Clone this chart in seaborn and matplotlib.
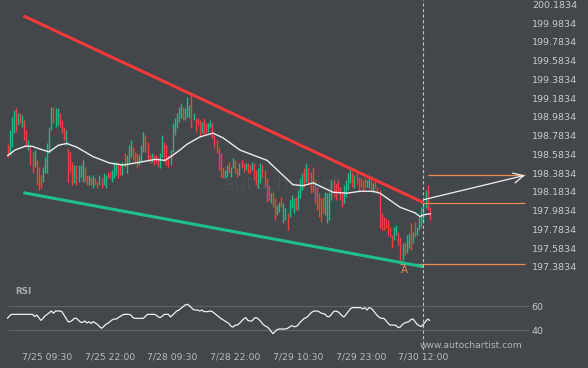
import numpy as np
import pandas as pd
import matplotlib
matplotlib.use("Agg")
import matplotlib.pyplot as plt
import seaborn as sns

# 30-minute candles (open / close prices)
opens = [
    198.69, 198.58, 198.66, 198.81, 199.08, 198.90, 199.02, 198.88, 198.95, 198.84,
    198.63, 198.66, 198.61, 198.45, 198.52, 198.45, 198.36, 198.29, 198.39, 198.39,
    198.60, 198.84, 199.09, 198.88, 198.90, 199.02, 198.95, 198.88, 198.68, 198.65,
    198.61, 198.50, 198.28, 198.47, 198.29, 198.34, 198.29, 198.45, 198.36, 198.26,
    198.34, 198.23, 198.33, 198.29, 198.26, 198.33, 198.26, 198.23, 198.40, 198.40,
    198.29, 198.33, 198.36, 198.50, 198.47, 198.36, 198.60, 198.39, 198.50, 198.56,
    198.66, 198.61, 198.60, 198.47, 198.50, 198.61, 198.79, 198.72, 198.58, 198.50,
    198.58, 198.58, 198.56, 198.44, 198.56, 198.72, 198.68, 198.58, 198.47, 198.61,
    198.79, 198.86, 198.93, 198.97, 199.09, 198.95, 198.98, 198.97, 199.22, 198.95,
    198.97, 198.97, 198.95, 198.81, 198.97, 198.92, 198.82, 198.88, 198.92, 198.79,
    198.74, 198.66, 198.60, 198.45, 198.33, 198.34, 198.50, 198.34, 198.44, 198.52,
    198.44, 198.36, 198.52, 198.49, 198.42, 198.49, 198.47, 198.42, 198.49, 198.42,
    198.23, 198.28, 198.47, 198.42, 198.33, 198.26, 198.07, 198.18, 198.12, 197.94,
    197.97, 198.13, 197.85, 197.88, 197.96, 197.92, 198.01, 197.96, 198.13, 197.99,
    198.12, 198.20, 198.44, 198.29, 198.44, 198.40, 198.45, 198.31, 198.24, 198.17,
    198.12, 198.13, 197.94, 197.85, 197.88, 198.10, 198.31, 198.28, 198.31, 198.24,
    198.17, 198.07, 198.13, 198.20, 198.28, 198.40, 198.23, 198.39, 198.34, 198.33,
    198.31, 198.33, 198.24, 198.23, 198.31, 198.17, 198.31, 198.24, 198.20, 197.96,
    197.92, 197.91, 197.88, 197.81, 197.72, 197.67, 197.72, 197.76, 197.70, 197.46,
    197.65, 197.53, 197.59, 197.85, 197.64, 197.86, 197.72, 197.78, 197.81, 197.86,
    198.01, 198.26, 198.02,
]
closes = [
    198.56, 198.84, 198.98, 199.06, 198.82, 199.02, 198.92, 199.00, 198.74, 198.66,
    198.74, 198.47, 198.39, 198.63, 198.26, 198.20, 198.23, 198.45, 198.56, 198.70,
    198.88, 199.09, 198.92, 199.08, 199.08, 198.88, 198.81, 198.74, 198.84, 198.29,
    198.40, 198.26, 198.47, 198.26, 198.47, 198.47, 198.52, 198.29, 198.26, 198.36,
    198.26, 198.36, 198.26, 198.23, 198.36, 198.23, 198.39, 198.36, 198.33, 198.33,
    198.42, 198.50, 198.50, 198.33, 198.36, 198.50, 198.45, 198.58, 198.68, 198.74,
    198.52, 198.49, 198.44, 198.58, 198.68, 198.82, 198.61, 198.52, 198.49, 198.60,
    198.47, 198.49, 198.45, 198.60, 198.79, 198.50, 198.47, 198.45, 198.63, 198.92,
    198.97, 199.02, 199.09, 199.13, 198.95, 199.08, 199.20, 199.11, 198.86, 199.02,
    198.82, 198.90, 198.77, 198.93, 198.79, 198.81, 198.92, 198.95, 198.76, 198.65,
    198.60, 198.42, 198.34, 198.33, 198.42, 198.47, 198.39, 198.45, 198.55, 198.39,
    198.34, 198.49, 198.44, 198.40, 198.49, 198.39, 198.39, 198.50, 198.31, 198.26,
    198.44, 198.49, 198.33, 198.24, 198.08, 198.10, 198.17, 198.02, 197.88, 198.04,
    198.08, 198.02, 198.07, 198.01, 197.78, 198.10, 198.15, 198.12, 197.99, 198.20,
    198.33, 198.39, 198.24, 198.49, 198.26, 198.17, 198.18, 198.07, 197.99, 197.92,
    197.86, 197.96, 198.18, 198.17, 198.18, 198.31, 198.13, 198.10, 198.17, 198.10,
    198.02, 198.26, 198.31, 198.39, 198.42, 198.24, 198.36, 198.26, 198.20, 198.24,
    198.18, 198.23, 198.31, 198.33, 198.20, 198.28, 198.23, 198.17, 197.80, 197.78,
    197.78, 197.80, 197.72, 197.70, 197.59, 197.81, 197.83, 197.62, 197.43, 197.64,
    197.51, 197.72, 197.75, 197.56, 197.76, 197.70, 197.81, 197.92, 198.02, 198.04,
    198.20, 197.99, 197.88,
]
rsi = [
    50, 52.2, 53.3, 53.3, 53.3, 53.3, 53.3, 53.3, 53.3, 53.3,
    53.3, 53.3, 53.3, 51.4, 52.8, 50.6, 48.3, 50, 52.2, 53.3,
    54.7, 56.1, 54.2, 56.1, 56.1, 56.1, 55.6, 52.8, 50, 47.2,
    47.2, 48.3, 50, 50, 48.3, 46.7, 46.7, 47.8, 46.1, 47.2,
    45.8, 47.2, 46.1, 45, 43.1, 41.7, 43.1, 45, 45.8, 47.2,
    48.6, 49.4, 49.4, 50.6, 51.7, 52.8, 53.3, 53.3, 53.3, 52.8,
    50.6, 50, 50, 50, 50, 50, 51.7, 53.3, 53.3, 53.3,
    53.3, 52.8, 51.4, 50.6, 51.7, 53.3, 53.3, 53.3, 51.1, 52.8,
    54.4, 56.1, 56.9, 58.3, 59.7, 61.1, 61.7, 60.6, 58.9, 57.2,
    56.9, 56.9, 56.1, 56.9, 55.6, 55.6, 55.6, 56.1, 55.6, 54.2,
    52.8, 51.4, 50, 48.9, 47.8, 46.7, 45.6, 43.3, 42.8, 44.4,
    44.4, 45.8, 47.8, 49.4, 50.6, 48.3, 47.8, 47.8, 50, 50.6,
    49.4, 47.8, 45.6, 43.9, 43.1, 41.7, 39.4, 37.2, 38.9, 40.6,
    41.1, 41.1, 41.1, 41.1, 41.7, 42.8, 43.9, 43.1, 43.1, 44.4,
    46.7, 48.3, 50, 50.6, 52.2, 54.2, 55.6, 56.1, 56.1, 55.6,
    54.4, 53.9, 53.3, 51.4, 51.4, 53.3, 55.6, 56.1, 55.6, 54.2,
    52.2, 51.1, 53.3, 55.6, 57.8, 58.9, 58.9, 58.9, 58.9, 58.9,
    57.8, 58.9, 56.9, 58.9, 58.3, 56.7, 54.2, 52.2, 50.6, 50,
    50, 48.3, 46.1, 44.4, 44.4, 44.4, 43.9, 42.2, 42.8, 45,
    46.1, 46.7, 47.2, 48.9, 49.4, 47.2, 45, 43.9, 43.1, 45,
    47.2, 49.4, 48.3,
]

# moving average line, read at points along the curve (bar index, price)
ma_bars = [0, 3.6, 8.4, 11.7, 15.6, 19.9, 24.3, 28.3, 33.2, 40.9, 49.0, 55.2,
           63.4, 70.7, 75.4, 78.2, 82.5, 85.8, 92.1, 98.3, 103.1, 111.2, 119.4,
           124.2, 130.4, 136.6, 141.4, 146.2, 151.0, 155.7, 162.4, 168.7, 174.9,
           178.2, 187.8, 195.0, 197.4, 199.0, 202.4]
ma_prices = [198.57, 198.63, 198.67, 198.67, 198.64, 198.61, 198.68, 198.70,
             198.66, 198.56, 198.49, 198.47, 198.50, 198.53, 198.52, 198.56,
             198.63, 198.69, 198.77, 198.81, 198.76, 198.63, 198.56, 198.52,
             198.39, 198.26, 198.25, 198.28, 198.23, 198.18, 198.17, 198.19,
             198.19, 198.17, 198.02, 197.96, 197.92, 197.94, 197.95]

time_labels = ["7/25 09:30", "7/25 22:00", "7/28 09:30", "7/28 22:00",
               "7/29 10:30", "7/29 23:00", "7/30 12:00"]
time_label_bars = [19, 49, 79, 109, 139, 169, 199]
price_ticks = [197.3834, 197.5834, 197.7834, 197.9834, 198.1834, 198.3834, 198.5834,
               198.7834, 198.9834, 199.1834, 199.3834, 199.5834, 199.7834, 199.9834, 200.1834]
rsi_ticks = [40, 60]

# pattern lines
resistance_bars = [7.6, 199]
resistance_prices = [200.06, 198.07]
support_bars = [7.6, 199]
support_prices = [198.175, 197.386]
breakout_bar = 199
breakout_price = 198.06
arrow_start_price = 198.10
target_bar = 201
target_price = 198.36
point_a_bar = 188
point_a_price = 197.42

BG = "#43464b"
GREEN = "#1bbd86"
RED = "#f53f3f"
ORANGE = "#ee8a52"
TXT = "#c8c9ca"

sns.set_theme(style="dark", rc={"axes.facecolor": BG, "figure.facecolor": BG})
plt.rcParams["font.family"] = ["DejaVu Sans"]

fig = plt.figure(figsize=(5.88, 3.68), dpi=100, facecolor=BG)
ax = fig.add_axes([0, 1 - 284 / 368, 527 / 588, 284 / 368])
rax = fig.add_axes([0, 1 - 350 / 368, 527 / 588, 66 / 368])

bars = np.arange(len(closes))
df = pd.DataFrame({"bar": bars, "open": opens, "close": closes, "rsi": rsi})
ma = pd.DataFrame({"bar": ma_bars, "price": ma_prices})
candle_colors = [GREEN if c >= o else RED for o, c in zip(df["open"], df["close"])]

xlim = (-3.59, 248.56)

# price panel
ax.text(0.535, 0.35, "autochartist", transform=ax.transAxes, ha="center", va="center",
        fontsize=14, color="#4b4e53", zorder=1)
ax.vlines(df["bar"], df["open"], df["close"], colors=candle_colors, linewidth=1.0, zorder=2)
sns.lineplot(data=ma, x="bar", y="price", ax=ax, color="#ececec", linewidth=1.0,
             sort=False, zorder=3)
ax.plot(resistance_bars, resistance_prices, color="#f23a3a", linewidth=2.2,
        solid_capstyle="butt", zorder=4)
ax.plot(support_bars, support_prices, color="#1fc08b", linewidth=2.2,
        solid_capstyle="butt", zorder=4)

right_end = xlim[1] - 1
ax.hlines(breakout_price, breakout_bar, right_end, color=ORANGE, linewidth=0.9, zorder=3)
ax.hlines(target_price, target_bar, right_end, color=ORANGE, linewidth=0.9, zorder=3)
ax.hlines(point_a_price, point_a_bar, right_end, color=ORANGE, linewidth=0.9, zorder=3)
ax.annotate("", xy=(right_end, target_price), xytext=(breakout_bar, arrow_start_price),
            arrowprops=dict(arrowstyle="->,head_length=0.6,head_width=0.3",
                            color="#f2f2f2", lw=0.9, shrinkA=0, shrinkB=0), zorder=5)
ax.annotate("A", (point_a_bar, point_a_price), xytext=(2.6, -4.4),
            textcoords="offset points", ha="center", va="center",
            color=ORANGE, fontsize=7.5)
ax.axvline(breakout_bar, color="#bfc0c2", linewidth=0.8, linestyle=(0, (3, 2)), zorder=5)

ax.set_xlim(*xlim)
ax.set_ylim(197.2016, 200.2292)
ax.yaxis.tick_right()
ax.set_yticks(price_ticks)
ax.set_yticklabels([f"{p:.4f}" for p in price_ticks])
ax.tick_params(axis="y", length=0, pad=3.6, labelsize=6.8, labelcolor=TXT)
ax.set_xticks([])
ax.set_xlabel("")
ax.set_ylabel("")
ax.grid(False)
for s in ax.spines.values():
    s.set_visible(False)

# RSI panel
rax.hlines(rsi_ticks, 0, xlim[1] + 1, color="#5d6064", linewidth=0.9, clip_on=False)
sns.lineplot(data=df, x="bar", y="rsi", ax=rax, color="#f0f0f0", linewidth=0.9)
rax.axvline(breakout_bar, color="#bfc0c2", linewidth=0.8, linestyle=(0, (3, 2)))
rax.set_xlim(*xlim)
rax.set_ylim(23.6, 78.6)
rax.yaxis.tick_right()
rax.set_yticks(rsi_ticks)
rax.set_yticklabels([str(t) for t in rsi_ticks])
rax.tick_params(axis="y", length=0, pad=3.4, labelsize=6.8, labelcolor=TXT)
rax.set_xticks(time_label_bars)
rax.set_xticklabels(time_labels)
rax.tick_params(axis="x", length=0, pad=1.8, labelsize=6.7, labelcolor="#b9babc")
rax.set_xlabel("")
rax.set_ylabel("")
rax.grid(False)
for s in rax.spines.values():
    s.set_visible(False)

fig.text(15 / 588, 1 - 291 / 368, "RSI", ha="left", va="center", fontsize=6.3,
         fontweight="bold", color="#a9abae")
fig.text(420 / 588, 1 - 346 / 368, "www.autochartist.com", ha="left", va="center",
         fontsize=6.6, color="#b4b6b8")

fig.savefig("out.png", dpi=100, facecolor=BG)
